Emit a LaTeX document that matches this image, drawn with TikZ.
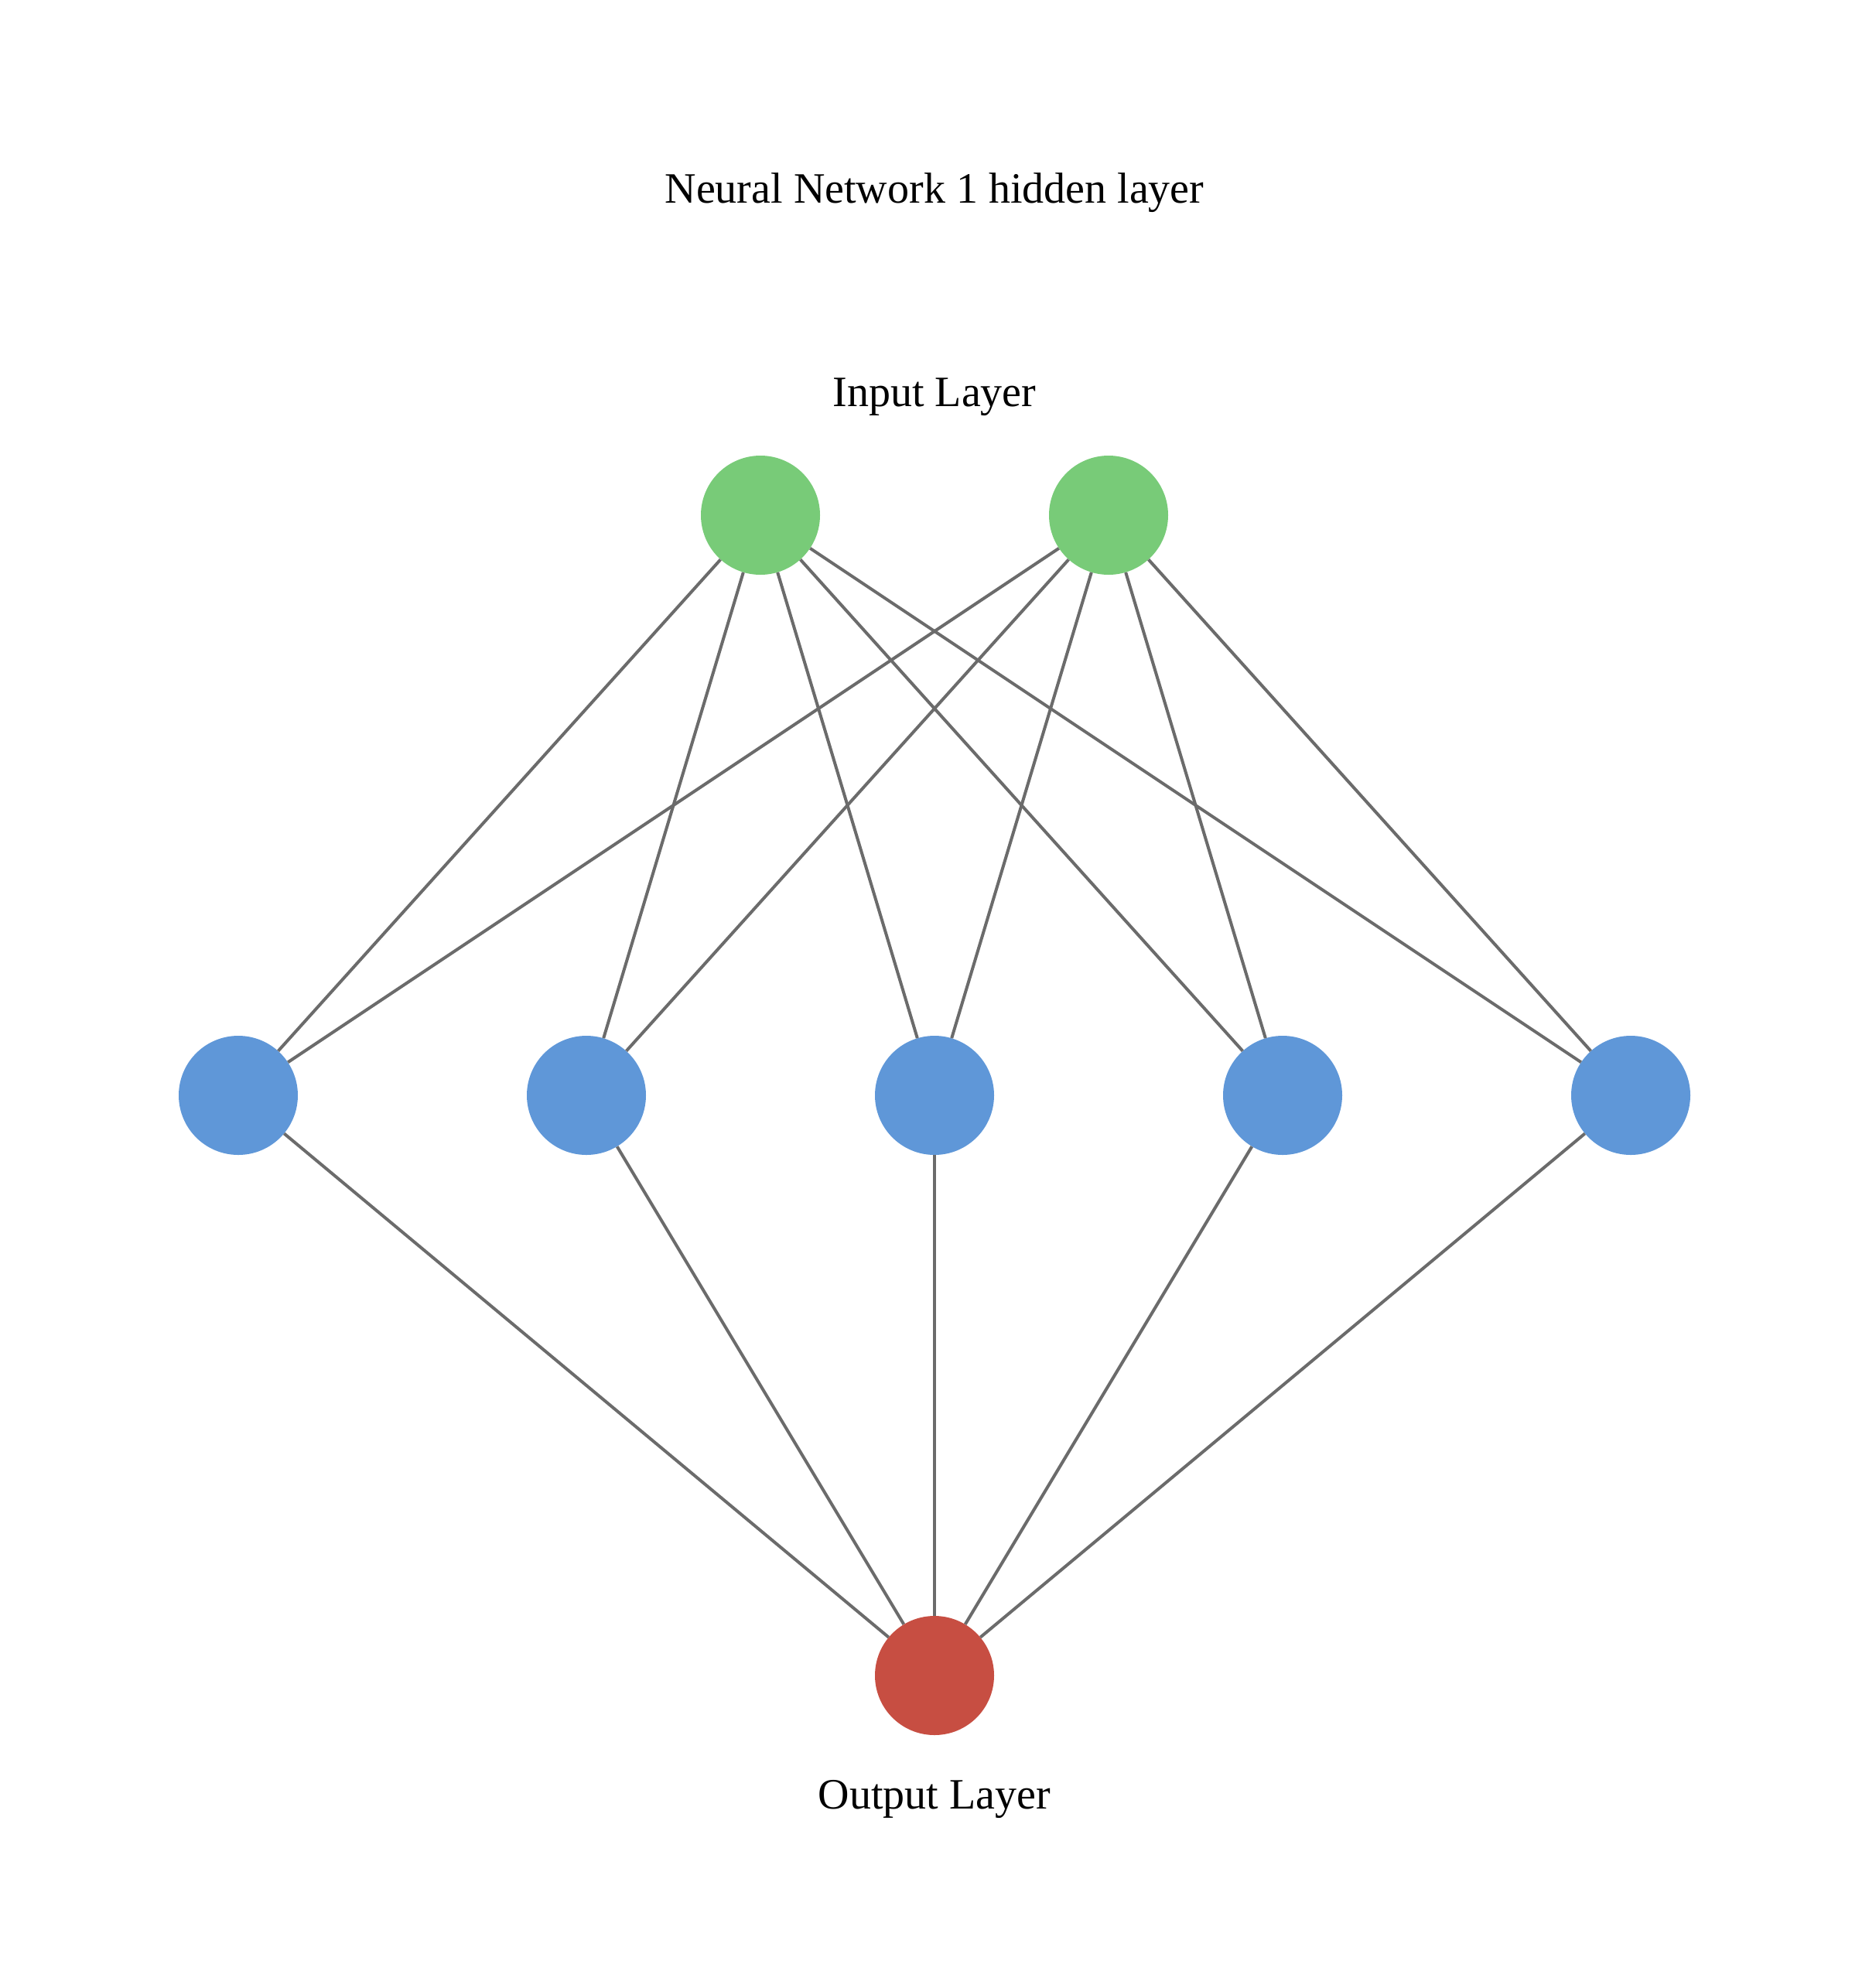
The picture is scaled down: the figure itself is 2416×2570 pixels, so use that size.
\documentclass[tikz,border=0pt]{standalone}
\usepackage{fontspec}
\setmainfont{Liberation Serif}
\definecolor{ingreen}{RGB}{120,203,120}
\definecolor{hidblue}{RGB}{95,151,216}
\definecolor{outred}{RGB}{199,78,66}
\definecolor{edgegray}{RGB}{107,107,107}
\tikzset{
  neuron/.style={circle, minimum size=154pt, inner sep=0pt, draw=none},
  edge/.style={draw=edgegray, line width=4pt},
  lbl/.style={anchor=base, inner sep=0pt, font=\fontsize{56}{60}\selectfont}
}
\begin{document}
\begin{tikzpicture}[x=1pt,y=-1pt]
\useasboundingbox (0,0) rectangle (2416,2570);
\node[lbl] (title) at (1208,262) {Neural Network 1 hidden layer};
\node[lbl] (inlbl) at (1208,525) {Input Layer};
\node[lbl] (outlbl) at (1208,2338) {Output Layer};
\node[neuron, fill=ingreen] (i1) at (983,666) {};
\node[neuron, fill=ingreen] (i2) at (1433,666) {};
\foreach \k/\x in {1/308,2/758,3/1208,4/1658,5/2108}
  \node[neuron, fill=hidblue] (h\k) at (\x,1416) {};
\node[neuron, fill=outred] (o) at (1208,2166) {};
\foreach \i in {1,2}
  \foreach \k in {1,...,5}
    \draw[edge] (i\i) -- (h\k);
\foreach \k in {1,...,5}
  \draw[edge] (h\k) -- (o);
\end{tikzpicture}
\end{document}
